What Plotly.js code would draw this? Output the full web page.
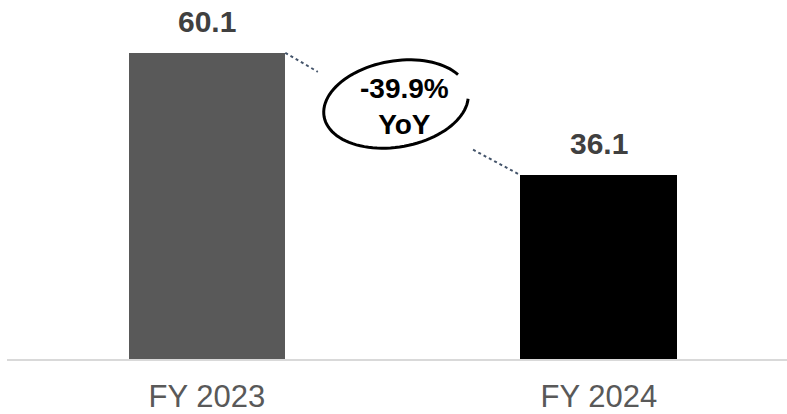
<!DOCTYPE html>
<html>
<head>
<meta charset="utf-8">
<script src="https://cdn.plot.ly/plotly-3.0.1.min.js"></script>
<style>html,body{margin:0;padding:0;background:#fff;}#chart{width:787px;height:414px;}</style>
</head>
<body>
<div id="chart"></div>
<script>
const categories = ["FY 2023", "FY 2024"];
const revenue = [60.1, 36.1];
const barColors = ["#595959", "#000000"];
const changeLabel = "-39.9%<br>YoY";

const W = 787, H = 414, ML = 7, MR = 0, MT = 0, MB = 55;
const plotW = W - ML - MR, plotH = H - MT - MB;
const px2paperX = p => (p - ML) / plotW;
const px2paperY = p => (H - MB - p) / plotH;

function ellipsePath(cx, cy, rx, ry, rotDeg, t0, t1) {
  const th = rotDeg * Math.PI / 180;
  let d = "";
  const n = 90;
  for (let i = 0; i <= n; i++) {
    const t = (t0 + (t1 - t0) * i / n) * Math.PI / 180;
    const x = cx + rx * Math.cos(t) * Math.cos(th) - ry * Math.sin(t) * Math.sin(th);
    const y = cy + rx * Math.cos(t) * Math.sin(th) + ry * Math.sin(t) * Math.cos(th);
    d += (i === 0 ? "M" : "L") + px2paperX(x).toFixed(5) + "," + px2paperY(y).toFixed(5);
  }
  return d;
}

const trace = {
  type: "bar",
  x: categories,
  y: revenue,
  width: 0.4,
  marker: {color: barColors},
  hoverinfo: "skip"
};

const valueAnnotations = categories.map((c, i) => ({
  x: c, y: revenue[i], xref: "x", yref: "y",
  text: "<b>" + revenue[i].toFixed(1) + "</b>",
  showarrow: false, yanchor: "bottom", yshift: 13,
  font: {family: "Liberation Sans, Arial, sans-serif", size: 30, color: "#404040"}
}));

const layout = {
  width: W, height: H,
  margin: {l: ML, r: MR, t: MT, b: MB},
  paper_bgcolor: "#ffffff", plot_bgcolor: "#ffffff",
  showlegend: false,
  bargap: 0,
  xaxis: {
    type: "category",
    range: [-0.510, 1.480],
    showline: true, linecolor: "#d9d9d9", linewidth: 2,
    ticks: "", showgrid: false, zeroline: false,
    ticklabelstandoff: 9,
    tickfont: {family: "Liberation Sans, Arial, sans-serif", size: 31, color: "#595959"},
    fixedrange: true
  },
  yaxis: {
    range: [0, 70.5], visible: false, showgrid: false, zeroline: false, fixedrange: true
  },
  annotations: valueAnnotations.concat([{
    xref: "paper", yref: "paper",
    x: px2paperX(404), y: px2paperY(106),
    text: "<b>" + changeLabel + "</b>",
    showarrow: false, xanchor: "center", yanchor: "middle",
    font: {family: "Liberation Sans, Arial, sans-serif", size: 28, color: "#000000"}
  }]),
  shapes: [
    {type: "line", xref: "x", yref: "y", x0: 0.2, y0: revenue[0], x1: 0.283, y1: 56.4,
     line: {color: "#44546a", width: 2, dash: "dot"}},
    {type: "line", xref: "x", yref: "y", x0: 0.679, y0: 41.1, x1: 0.8, y1: revenue[1],
     line: {color: "#44546a", width: 2, dash: "dot"}},
    {type: "path", xref: "paper", yref: "paper",
     path: ellipsePath(396, 104, 73, 43, -10, -25, -350),
     line: {color: "#000000", width: 3}}
  ]
};

Plotly.newPlot("chart", [trace], layout, {staticPlot: true, displayModeBar: false});
</script>
</body>
</html>
